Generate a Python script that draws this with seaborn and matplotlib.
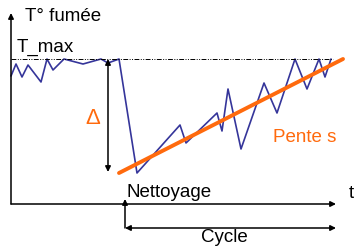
import matplotlib
matplotlib.use("Agg")
import matplotlib.pyplot as plt
import seaborn as sns
import pandas as pd

# data (time units ~ horizontal position, temperature units ~ vertical)
time = [11, 16, 22, 28, 41, 47, 53, 64, 83, 101, 108, 119, 137, 180, 186, 217,
        222, 228, 241, 264, 277, 295, 307, 319, 325, 331]
temp = [171, 183, 170, 182, 165, 188, 177, 188, 183, 188, 184, 188, 74, 122, 104,
        134, 116, 158, 98, 164, 134, 188, 158, 188, 170, 188]
t_max = 188
slope_time = [119, 343]
slope_temp = [74, 188]
t_clean = 125

sns.set_theme(style="white")
plt.rcParams['font.family'] = ['Liberation Sans', 'DejaVu Sans']

fig = plt.figure(figsize=(3.54, 2.47), dpi=100)
ax = fig.add_axes([0, 0, 1, 1])
ax.set_xlim(0, 354)
ax.set_ylim(0, 247)
ax.axis('off')

df = pd.DataFrame({"t": time, "T": temp})
sns.lineplot(data=df, x="t", y="T", sort=False, estimator=None, ax=ax,
             color="#35359A", lw=1.2)
sns.lineplot(x=slope_time, y=slope_temp, sort=False, estimator=None, ax=ax,
             color="#FF6A0D", lw=2.8)

ax.plot([11, 333], [t_max, t_max], color="black", lw=0.7,
        linestyle=(0, (5, 1.5, 1, 1.5, 1, 1.5)))

ap = dict(arrowstyle='-|>', mutation_scale=8, lw=1.1, color='black', shrinkA=0, shrinkB=0)
ap2 = dict(arrowstyle='<|-|>', mutation_scale=8, lw=1.1, color='black', shrinkA=0, shrinkB=0)
# axes
ax.annotate("", xy=(11, 234), xytext=(11, 43), arrowprops=ap)
ax.annotate("", xy=(336, 43), xytext=(11, 43), arrowprops=ap)
# delta
ax.annotate("", xy=(108, 75), xytext=(108, t_max), arrowprops=ap2)
# nettoyage / cycle
ax.annotate("", xy=(t_clean, 48), xytext=(t_clean, 19), arrowprops=ap)
ax.annotate("", xy=(336, 19), xytext=(t_clean, 19), arrowprops=ap2)

fs = 13.5
ax.text(25, 226, "T° fumée", fontsize=fs, va='baseline', ha='left', color='black')
ax.text(17, 195, "T_max", fontsize=fs, va='baseline', ha='left', color='black')
ax.text(85, 123, "Δ", fontsize=16, va='baseline', ha='left', color='#FF6A0D')
ax.text(273, 105, "Pente s", fontsize=fs, va='baseline', ha='left', color='#FF6A0D')
ax.text(127, 50, "Nettoyage", fontsize=fs, va='baseline', ha='left', color='black')
ax.text(349, 49, "t", fontsize=fs, va='baseline', ha='left', color='black')
ax.text(201, 5, "Cycle", fontsize=fs, va='baseline', ha='left', color='black')

fig.savefig("out.png", dpi=100)
